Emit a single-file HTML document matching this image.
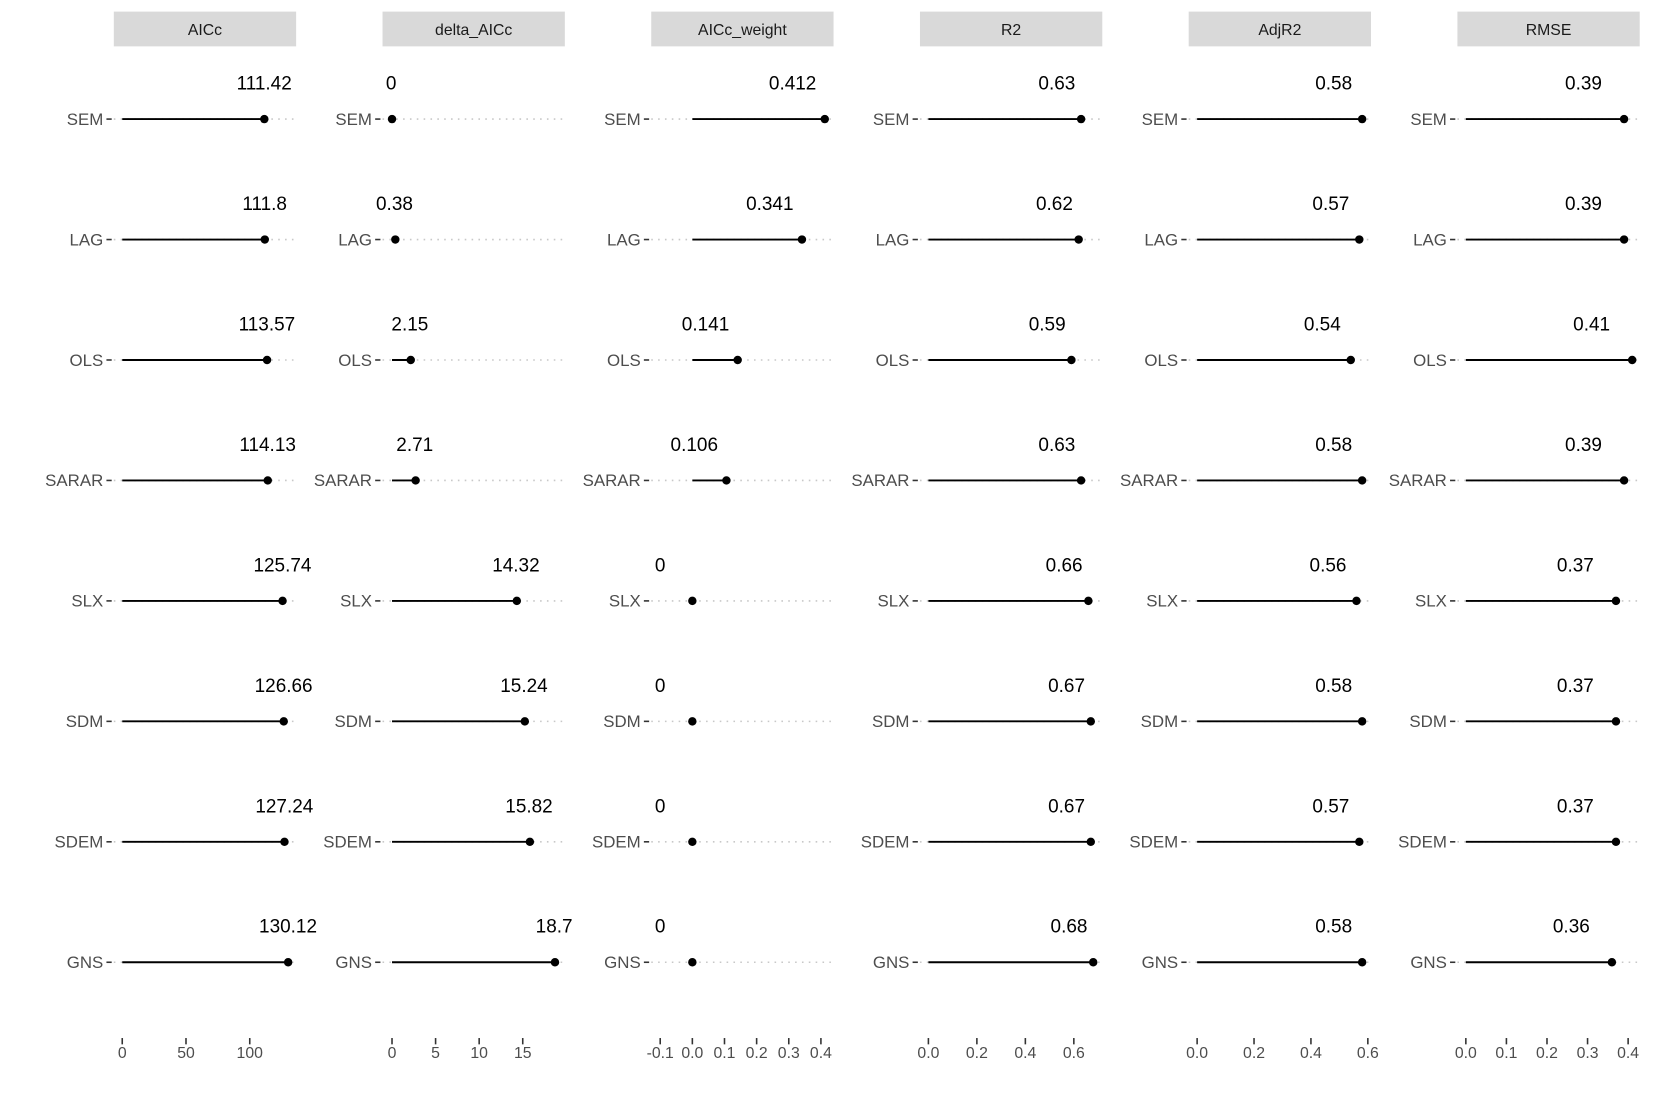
<!DOCTYPE html>
<html><head><meta charset="utf-8"><style>
html,body{margin:0;padding:0;background:#fff}
svg{display:block;font-family:"Liberation Sans",sans-serif}
</style></head><body>
<svg id="chart" width="1653" height="1102" viewBox="0 0 1568.6 1045.7" preserveAspectRatio="none" xmlns="http://www.w3.org/2000/svg"></svg>
<script>
const models = ["SEM","LAG","OLS","SARAR","SLX","SDM","SDEM","GNS"];
const metrics = ["AICc","delta_AICc","AICc_weight","R2","AdjR2","RMSE"];
const aiccValues = [111.42,111.8,113.57,114.13,125.74,126.66,127.24,130.12];
const aiccLabels = ["111.42","111.8","113.57","114.13","125.74","126.66","127.24","130.12"];
const deltaValues = [0,0.38,2.15,2.71,14.32,15.24,15.82,18.7];
const deltaLabels = ["0","0.38","2.15","2.71","14.32","15.24","15.82","18.7"];
const weightValues = [0.412,0.341,0.141,0.106,0,0,0,0];
const weightLabels = ["0.412","0.341","0.141","0.106","0","0","0","0"];
const r2Values = [0.63,0.62,0.59,0.63,0.66,0.67,0.67,0.68];
const r2Labels = ["0.63","0.62","0.59","0.63","0.66","0.67","0.67","0.68"];
const adjValues = [0.58,0.57,0.54,0.58,0.56,0.58,0.57,0.58];
const adjLabels = ["0.58","0.57","0.54","0.58","0.56","0.58","0.57","0.58"];
const rmseValues = [0.39,0.39,0.41,0.39,0.37,0.37,0.37,0.36];
const rmseLabels = ["0.39","0.39","0.41","0.39","0.37","0.37","0.37","0.36"];
const aiccTicks = [0,50,100];
const deltaTicks = [0,5,10,15];
const weightTicks = [-0.1,0,0.1,0.2,0.3,0.4];
const weightTickLabels = ["-0.1","0.0","0.1","0.2","0.3","0.4"];
const r2Ticks = [0,0.2,0.4,0.6];
const r2TickLabels = ["0.0","0.2","0.4","0.6"];
const rmseTicks = [0,0.1,0.2,0.3,0.4];
const rmseTickLabels = ["0.0","0.1","0.2","0.3","0.4"];

const panels = [
 {vals:aiccValues,labs:aiccLabels,ticks:aiccTicks,tl:["0","50","100"],x0:116,ppu:1.21},
 {vals:deltaValues,labs:deltaLabels,ticks:deltaTicks,tl:["0","5","10","15"],x0:372,ppu:8.27},
 {vals:weightValues,labs:weightLabels,ticks:weightTicks,tl:weightTickLabels,x0:657,ppu:305},
 {vals:r2Values,labs:r2Labels,ticks:r2Ticks,tl:r2TickLabels,x0:881,ppu:230},
 {vals:adjValues,labs:adjLabels,ticks:r2Ticks,tl:r2TickLabels,x0:1136,ppu:270},
 {vals:rmseValues,labs:rmseLabels,ticks:rmseTicks,tl:rmseTickLabels,x0:1391,ppu:385}
];
const svg=document.getElementById('chart');
const NS='http://www.w3.org/2000/svg';
function mk(t,a,txt){const e=document.createElementNS(NS,t);for(const k in a)e.setAttribute(k,a[k]);if(txt!==undefined)e.textContent=txt;svg.appendChild(e);return e;}
function yRow(i){return 113+i*114.3;}
panels.forEach((p,pi)=>{
  const left=108+pi*255, right=left+173;
  const xs=v=>p.x0+v*p.ppu;
  let e=mk('rect',{x:left,y:11,width:173,height:33,fill:'#d9d9d9'});
  
  
  e=mk('text',{x:left+86.5,y:33,'text-anchor':'middle','font-size':15,fill:'#1a1a1a'},metrics[pi]);
  
  
  models.forEach((m,i)=>{
    const y=yRow(i);
    e=mk('line',{x1:left,x2:right,y1:y,y2:y,stroke:'#c8c8c8','stroke-width':1.5,'stroke-dasharray':'1.5 5'});
    
    
    e=mk('line',{x1:left-7,x2:left-2,y1:y,y2:y,stroke:'#333','stroke-width':1.5});
    
    
    e=mk('text',{x:left-10,y:y+5.5,'text-anchor':'end','font-size':16,fill:'#4d4d4d'},m);
    
    
    const v=p.vals[i];
    e=mk('line',{x1:xs(0),x2:xs(v),y1:y,y2:y,stroke:'#000','stroke-width':1.8});
    
    
    e=mk('circle',{cx:xs(v),cy:y,r:4,fill:'#000'});
    
    
    e=mk('text',{x:xs(v-0.1),y:y-28,'text-anchor':'middle','font-size':18,fill:'#000'},p.labs[i]);
    
    
  });
  p.ticks.forEach((t,k)=>{
    const x=xs(t);
    e=mk('line',{x1:x,x2:x,y1:985,y2:991,stroke:'#333','stroke-width':1.5});
    
    
    e=mk('text',{x:x,y:1004,'text-anchor':'middle','font-size':15,fill:'#4d4d4d'},p.tl[k]);
    
    
  });
});
</script>
</body></html>
